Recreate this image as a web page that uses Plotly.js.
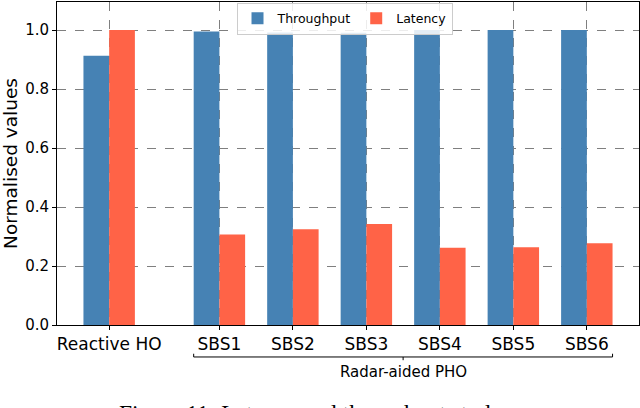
<!DOCTYPE html>
<html>
<head>
<meta charset="utf-8">
<script src="https://cdn.plot.ly/plotly-3.0.1.min.js"></script>
<style>
  html, body { margin: 0; padding: 0; background: #fff; }
  #chart { width: 640px; height: 408px; }
</style>
</head>
<body>
<div id="chart"></div>
<script>
// categories and their positions on the x axis (gap after Reactive HO)
const categories = ["Reactive HO", "SBS1", "SBS2", "SBS3", "SBS4", "SBS5", "SBS6"];
const positions = [0, 1.5, 2.5, 3.5, 4.5, 5.5, 6.5];

const throughput = [0.913, 0.995, 0.992, 0.991, 1.0, 1.0, 1.0];
const latency = [1.0, 0.307, 0.325, 0.342, 0.262, 0.264, 0.277];

const groupLabel = "Radar-aided PHO";
const caption = "Figure 11: Latency and throughput study";

const barWidth = 0.35;
const gridColor = "#7f7f7f";

const traces = [
  {
    type: "bar",
    name: "Throughput",
    x: positions,
    y: throughput,
    width: barWidth,
    offset: -barWidth,
    marker: { color: "#4682B4" },
  },
  {
    type: "bar",
    name: "Latency",
    x: positions,
    y: latency,
    width: barWidth,
    offset: 0,
    marker: { color: "#FF6347" },
  },
];

// bracket under SBS1..SBS6
const sbs = positions.slice(1);
const bx0 = sbs[0] - barWidth;
const bx1 = sbs[sbs.length - 1] + barWidth;
const bmid = (sbs[0] + sbs[sbs.length - 1]) / 2;
const by = -0.099;
const bracket = { type: "line", xref: "x", yref: "paper", line: { color: "#000", width: 1 } };

const layout = {
  width: 640,
  height: 408,
  margin: { l: 57, r: 1, t: 2, b: 83 },
  paper_bgcolor: "#fff",
  plot_bgcolor: "#fff",
  showlegend: true,
  legend: {
    orientation: "h",
    x: 0.494,
    xanchor: "center",
    y: 0.998,
    yanchor: "top",
    bgcolor: "rgba(255,255,255,0.85)",
    bordercolor: "#cccccc",
    borderwidth: 1,
    font: { family: "DejaVu Sans", size: 12.5, color: "#000" },
  },
  xaxis: {
    range: [-0.71, 7.21],
    tickvals: positions,
    ticktext: categories,
    tickfont: { family: "DejaVu Sans", size: 17, color: "#000" },
    ticks: "outside",
    ticklen: 4,
    tickcolor: "#000",
    showline: true,
    linecolor: "#000",
    linewidth: 1,
    mirror: true,
    showgrid: true,
    gridcolor: gridColor,
    griddash: "dash",
    gridwidth: 1,
    zeroline: false,
  },
  yaxis: {
    range: [0, 1.095],
    tickvals: [0, 0.2, 0.4, 0.6, 0.8, 1.0],
    ticktext: ["0.0", "0.2", "0.4", "0.6", "0.8", "1.0"],
    tickfont: { family: "DejaVu Sans", size: 15, color: "#000" },
    ticks: "outside",
    ticklen: 4,
    tickcolor: "#000",
    showline: true,
    linecolor: "#000",
    linewidth: 1,
    mirror: true,
    showgrid: true,
    gridcolor: gridColor,
    griddash: "dash",
    gridwidth: 1,
    zeroline: false,
    title: { text: "Normalised values", font: { family: "DejaVu Sans", size: 18.5, color: "#000" }, standoff: 6 },
  },
  shapes: [
    Object.assign({}, bracket, { x0: bx0, x1: bx1, y0: by, y1: by }),
    Object.assign({}, bracket, { x0: bx0, x1: bx0, y0: by, y1: by + 0.01 }),
    Object.assign({}, bracket, { x0: bx1, x1: bx1, y0: by, y1: by + 0.01 }),
    Object.assign({}, bracket, { x0: bmid, x1: bmid, y0: by, y1: by - 0.01 }),
  ],
  annotations: [
    {
      text: groupLabel,
      xref: "x",
      yref: "paper",
      x: bmid,
      y: -0.145,
      yanchor: "middle",
      showarrow: false,
      font: { family: "DejaVu Sans", size: 15, color: "#000" },
    },
    {
      // figure caption, clipped by the bottom edge as in the source image
      text: caption,
      xref: "paper",
      yref: "paper",
      x: 0.437,
      y: -0.226,
      yanchor: "top",
      showarrow: false,
      font: { family: "Liberation Serif, serif", size: 23.5, color: "#000" },
    },
  ],
};

Plotly.newPlot("chart", traces, layout, { displayModeBar: false, staticPlot: true });
</script>
</body>
</html>
